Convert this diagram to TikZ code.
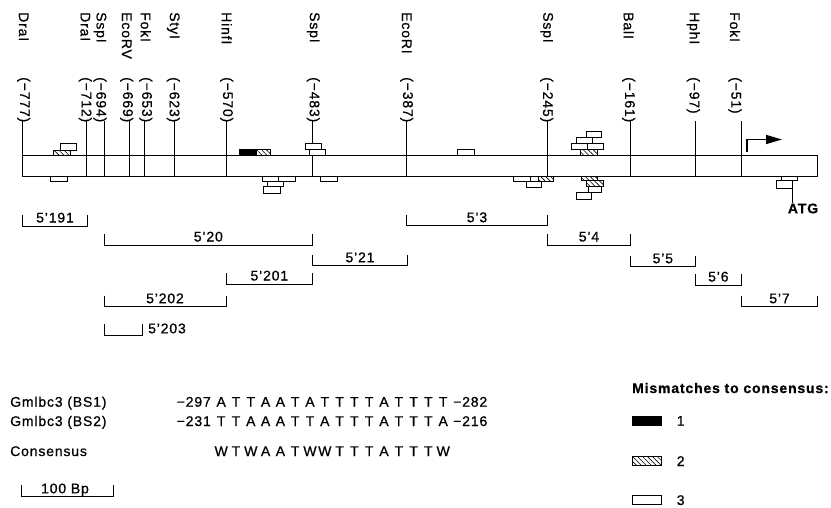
\documentclass[tikz,border=0pt]{standalone}
\usepackage{fontspec}
\setmainfont{Liberation Sans}[LetterSpace=6,FakeBold=0.7]
\usetikzlibrary{arrows.meta,patterns.meta}
\newcommand\myfs{\fontsize{14pt}{16pt}\selectfont}
\newcommand\sq[1]{\makebox[14.8pt]{#1}}
\newcommand\site[5]{%
  \node[rl] (e#1) at (#2,12) {#3};
  \node[rl] (n#1) at (#2,77) {#4};
  \coordinate (t#1) at (#5,121);
  \coordinate (b#1) at (#5,176);
  \draw[ln] (t#1) -- (b#1);}
\newcommand\frag[5]{%
  \coordinate (fa#1) at (#2,#4-11);
  \coordinate (fb#1) at (#3,#4-11);
  \draw[ln] (fa#1) |- (#3,#4) -- (fb#1);
  \node[anchor=base] (fl#1) at ({(#2+#3)/2},#4-3.5) {#5};}
\begin{document}
\begin{tikzpicture}[x=1pt,y=-1pt,
  every node/.style={inner sep=0pt,font=\myfs},
  ln/.style={line width=0.8pt},
  bx/.style={draw,line width=0.7pt,fill=white},
  hb/.style={draw,line width=0.7pt,preaction={fill=white},pattern={Lines[angle=-45,distance=3.5pt,line width=0.6pt]}},
  bk/.style={draw,line width=0.7pt,fill=black},
  rl/.style={rotate=-90,anchor=west}]
\useasboundingbox (0,0) rectangle (831,507);
% bar
\draw[ln] (22,155) rectangle (817,176);
% sites
\site{1}{23.7}{DraI}{(−777)}{22}
\site{2}{85.3}{DraI}{(−712)}{86.7}
\site{3}{100}{SspI}{(−694)}{104.3}
\site{4}{126.7}{EcoRV}{(−669)}{129}
\site{5}{145.8}{FokI}{(−653)}{144}
\site{6}{173.3}{StyI}{(−623)}{174}
\site{7}{226.7}{HinfI}{(−570)}{226}
\site{8}{313.3}{SspI}{(−483)}{312.7}
\site{9}{406.7}{EcoRI}{(−387)}{406.7}
\site{10}{546.7}{SspI}{(−245)}{547.5}
\site{11}{628.7}{BalI}{(−161)}{630.7}
\site{12}{693.3}{HphI}{(−97)}{695.3}
\site{13}{735}{FokI}{(−51)}{741.7}
% transcription start arrow
\coordinate (tsA) at (746.7,151.5);
\coordinate (tsB) at (782,139.5);
\draw[line width=1.6pt,-{Triangle[length=16pt,width=9pt]}] (tsA) |- (tsB);
% binding site boxes
\draw[bx] (60,143.3) rectangle (76.7,150);
\draw[hb] (53.3,150) rectangle (70,155);
\draw[bx] (50.5,176) rectangle (67,181.7);
\draw[bk] (239.3,149.3) rectangle (256,155);
\draw[hb] (256,149.3) rectangle (270.7,155);
\draw[bx] (305,143.3) rectangle (321.7,149);
\draw[bx] (309.3,149) rectangle (325,155);
\draw[bx] (262.5,176) rectangle (278.5,181);
\draw[bx] (278.5,176) rectangle (295,181);
\draw[bx] (267.5,181) rectangle (283.3,186.7);
\draw[bx] (263.3,186.7) rectangle (280,193.5);
\draw[bx] (320.7,176) rectangle (337.3,181);
\draw[bx] (457.3,149) rectangle (474,155);
\draw[bx] (513.3,176) rectangle (530,181);
\draw[bx] (530,176) rectangle (538.3,181);
\draw[hb] (538.3,176) rectangle (553.3,181);
\draw[bx] (526,181) rectangle (541.7,187);
\draw[bx] (586,131.7) rectangle (601.7,137.7);
\draw[bx] (576.5,137.7) rectangle (592.5,143.3);
\draw[bx] (571.7,143.3) rectangle (587.3,149);
\draw[bx] (587.3,143.3) rectangle (603,149);
\draw[hb] (580,149) rectangle (597.5,155);
\draw[hb] (581.7,176) rectangle (597.5,180.5);
\draw[hb] (586.5,180.5) rectangle (603.5,186.7);
\draw[bx] (588,186.7) rectangle (601.7,192.5);
\draw[bx] (576,192.5) rectangle (591.7,199);
\draw[bx] (781,176) rectangle (797,180.3);
\draw[bx] (776.5,180.3) rectangle (792.5,188);
\node[anchor=base,font=\myfs\bfseries] (atg) at (803,213.3) {ATG};
\coordinate (atgtop) at (792,188);
\draw[ln] (atgtop) -- (atgtop|-atg.north);
% fragments
\frag{191}{22.7}{87.3}{226}{5'191}
\frag{20}{104}{312.7}{245}{5'20}
\frag{21}{312.7}{407.3}{265.7}{5'21}
\frag{201}{226}{312.7}{284}{5'201}
\frag{202}{104}{226}{306.7}{5'202}
\coordinate (fa203) at (104,324);
\coordinate (fb203) at (142.7,324);
\draw[ln] (fa203) |- (142.7,335) -- (fb203);
\node[anchor=base west] (fl203) at (148,333.3) {5'203};
\frag{3}{406.7}{547.3}{225.7}{5'3}
\frag{4}{547.3}{630.7}{245}{5'4}
\frag{5}{630.7}{695}{266.7}{5'5}
\frag{6}{695}{741.7}{285}{5'6}
\frag{7}{741.7}{817.3}{306.7}{5'7}
% sequences
\node[anchor=base west] (g1) at (10,406.7) {Gmlbc3 (BS1)};
\node[anchor=base west] (g2) at (10,426) {Gmlbc3 (BS2)};
\node[anchor=base west] (cn) at (10,456) {Consensus};
\node[anchor=base east] (s1a) at (211,406.7) {−297};
\node[anchor=base west] (s1) at (213.6,406.7) {\sq A\sq T\sq T\sq A\sq A\sq T\sq A\sq T\sq T\sq T\sq T\sq A\sq T\sq T\sq T\sq T};
\node[anchor=base west] (s1b) at (453,406.7) {−282};
\node[anchor=base east] (s2a) at (211,426) {−231};
\node[anchor=base west] (s2) at (213.6,426) {\sq T\sq T\sq A\sq A\sq A\sq T\sq T\sq A\sq T\sq T\sq T\sq A\sq T\sq T\sq T\sq A};
\node[anchor=base west] (s2b) at (453,426) {−216};
\node[anchor=base west] (s3) at (213.6,456) {\sq W\sq T\sq W\sq A\sq A\sq T\sq W\sq W\sq T\sq T\sq T\sq A\sq T\sq T\sq T\sq W};
% scale
\coordinate (sa) at (21,485);
\coordinate (sb) at (113,485);
\draw[ln] (sa) |- (113,496) -- (sb);
\node[anchor=base] (sl) at (65,493.3) {100 Bp};
% legend
\node[anchor=base west,font=\myfs\bfseries] (lt) at (632,393) {Mismatches to consensus:};
\draw[bk] (632.7,416.7) rectangle (661.7,425);
\node[anchor=base] (l1) at (680.7,425.7) {1};
\draw[hb] (632.7,456.7) rectangle (661.7,465);
\node[anchor=base] (l2) at (680.7,466) {2};
\draw[bx] (632.7,495.5) rectangle (661.7,504);
\node[anchor=base] (l3) at (680.7,505) {3};
\end{tikzpicture}
\end{document}
